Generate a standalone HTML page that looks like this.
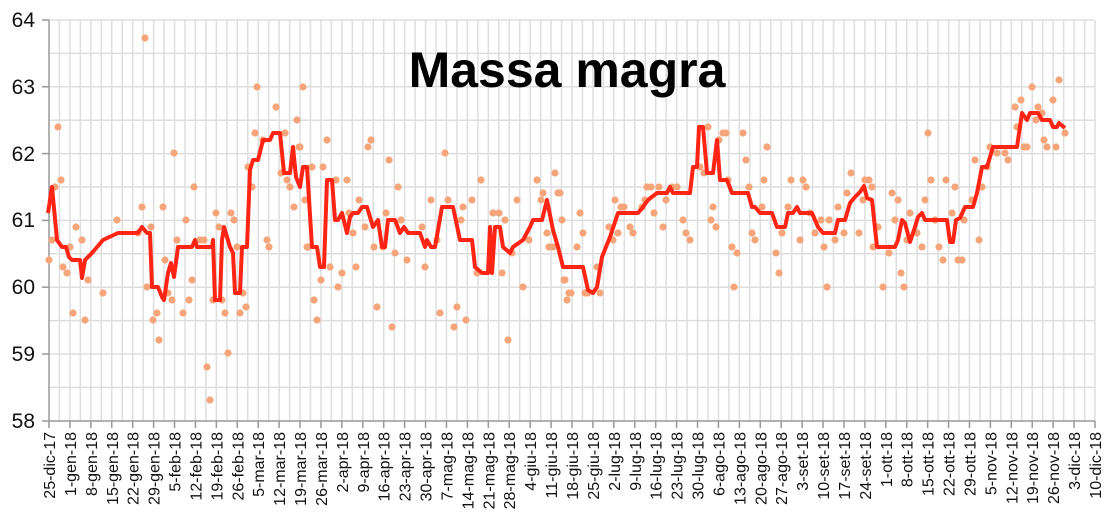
<!DOCTYPE html>
<html><head><meta charset="utf-8"><style>html,body{margin:0;padding:0;background:#fff}svg{display:block}</style></head>
<body>
<svg width="1106" height="526" viewBox="0 0 1106 526" xmlns="http://www.w3.org/2000/svg" font-family="Liberation Sans, Arial, sans-serif">
<g stroke="#dedede" stroke-width="1.5">
<line x1="49" y1="53.4" x2="1094" y2="53.4"/><line x1="49" y1="86.8" x2="1094" y2="86.8"/><line x1="49" y1="120.2" x2="1094" y2="120.2"/><line x1="49" y1="153.6" x2="1094" y2="153.6"/><line x1="49" y1="187" x2="1094" y2="187"/><line x1="49" y1="220.4" x2="1094" y2="220.4"/><line x1="49" y1="253.8" x2="1094" y2="253.8"/><line x1="49" y1="287.2" x2="1094" y2="287.2"/><line x1="49" y1="320.6" x2="1094" y2="320.6"/><line x1="49" y1="354" x2="1094" y2="354"/><line x1="49" y1="387.4" x2="1094" y2="387.4"/><line x1="49" y1="20" x2="1094" y2="20"/>
</g>
<path stroke="#dedede" stroke-width="1.5" fill="none" d="M59.46 20V421M69.92 20V421M80.38 20V421M90.84 20V421M101.3 20V421M111.76 20V421M122.22 20V421M132.68 20V421M143.14 20V421M153.6 20V421M164.06 20V421M174.52 20V421M184.98 20V421M195.44 20V421M205.9 20V421M216.36 20V421M226.82 20V421M237.28 20V421M247.74 20V421M258.2 20V421M268.66 20V421M279.12 20V421M289.58 20V421M300.04 20V421M310.5 20V421M320.96 20V421M331.42 20V421M341.88 20V421M352.34 20V421M362.8 20V421M373.26 20V421M383.72 20V421M394.18 20V421M404.64 20V421M415.1 20V421M425.56 20V421M436.02 20V421M446.48 20V421M456.94 20V421M467.4 20V421M477.86 20V421M488.32 20V421M498.78 20V421M509.24 20V421M519.7 20V421M530.16 20V421M540.62 20V421M551.08 20V421M561.54 20V421M572 20V421M582.46 20V421M592.92 20V421M603.38 20V421M613.84 20V421M624.3 20V421M634.76 20V421M645.22 20V421M655.68 20V421M666.14 20V421M676.6 20V421M687.06 20V421M697.52 20V421M707.98 20V421M718.44 20V421M728.9 20V421M739.36 20V421M749.82 20V421M760.28 20V421M770.74 20V421M781.2 20V421M791.66 20V421M802.12 20V421M812.58 20V421M823.04 20V421M833.5 20V421M843.96 20V421M854.42 20V421M864.88 20V421M875.34 20V421M885.8 20V421M896.26 20V421M906.72 20V421M917.18 20V421M927.64 20V421M938.1 20V421M948.56 20V421M959.02 20V421M969.48 20V421M979.94 20V421M990.4 20V421M1000.86 20V421M1011.32 20V421M1021.78 20V421M1032.24 20V421M1042.7 20V421M1053.16 20V421M1063.62 20V421M1074.08 20V421M1084.54 20V421M1095 20V421"/>
<g stroke="#999" stroke-width="1.5">
<line x1="49" y1="20" x2="49" y2="421"/><line x1="49" y1="421" x2="1095" y2="421"/>
<line x1="42" y1="20" x2="49" y2="20"/><line x1="42" y1="86.8" x2="49" y2="86.8"/><line x1="42" y1="153.6" x2="49" y2="153.6"/><line x1="42" y1="220.4" x2="49" y2="220.4"/><line x1="42" y1="287.2" x2="49" y2="287.2"/><line x1="42" y1="354" x2="49" y2="354"/><line x1="42" y1="421" x2="49" y2="421"/>
</g>
<path stroke="#999" stroke-width="1.5" d="M49 421v7M69.92 421v7M90.84 421v7M111.76 421v7M132.68 421v7M153.6 421v7M174.52 421v7M195.44 421v7M216.36 421v7M237.28 421v7M258.2 421v7M279.12 421v7M300.04 421v7M320.96 421v7M341.88 421v7M362.8 421v7M383.72 421v7M404.64 421v7M425.56 421v7M446.48 421v7M467.4 421v7M488.32 421v7M509.24 421v7M530.16 421v7M551.08 421v7M572 421v7M592.92 421v7M613.84 421v7M634.76 421v7M655.68 421v7M676.6 421v7M697.52 421v7M718.44 421v7M739.36 421v7M760.28 421v7M781.2 421v7M802.12 421v7M823.04 421v7M843.96 421v7M864.88 421v7M885.8 421v7M906.72 421v7M927.64 421v7M948.56 421v7M969.48 421v7M990.4 421v7M1011.32 421v7M1032.24 421v7M1053.16 421v7M1074.08 421v7M1095 421v7"/>
<g font-size="21" fill="#111" text-anchor="end">
<text x="35" y="27">64</text><text x="35" y="94">63</text><text x="35" y="161">62</text><text x="35" y="227">61</text><text x="35" y="294">60</text><text x="35" y="361">59</text><text x="35" y="428">58</text>
</g>
<g font-size="16" fill="#111" text-anchor="end">
<text transform="translate(55,432) rotate(-90)">25-dic-17</text>
<text transform="translate(75.9,432) rotate(-90)">1-gen-18</text>
<text transform="translate(96.8,432) rotate(-90)">8-gen-18</text>
<text transform="translate(117.8,432) rotate(-90)">15-gen-18</text>
<text transform="translate(138.7,432) rotate(-90)">22-gen-18</text>
<text transform="translate(159.6,432) rotate(-90)">29-gen-18</text>
<text transform="translate(180.5,432) rotate(-90)">5-feb-18</text>
<text transform="translate(201.4,432) rotate(-90)">12-feb-18</text>
<text transform="translate(222.4,432) rotate(-90)">19-feb-18</text>
<text transform="translate(243.3,432) rotate(-90)">26-feb-18</text>
<text transform="translate(264.2,432) rotate(-90)">5-mar-18</text>
<text transform="translate(285.1,432) rotate(-90)">12-mar-18</text>
<text transform="translate(306,432) rotate(-90)">19-mar-18</text>
<text transform="translate(327,432) rotate(-90)">26-mar-18</text>
<text transform="translate(347.9,432) rotate(-90)">2-apr-18</text>
<text transform="translate(368.8,432) rotate(-90)">9-apr-18</text>
<text transform="translate(389.7,432) rotate(-90)">16-apr-18</text>
<text transform="translate(410.6,432) rotate(-90)">23-apr-18</text>
<text transform="translate(431.6,432) rotate(-90)">30-apr-18</text>
<text transform="translate(452.5,432) rotate(-90)">7-mag-18</text>
<text transform="translate(473.4,432) rotate(-90)">14-mag-18</text>
<text transform="translate(494.3,432) rotate(-90)">21-mag-18</text>
<text transform="translate(515.2,432) rotate(-90)">28-mag-18</text>
<text transform="translate(536.2,432) rotate(-90)">4-giu-18</text>
<text transform="translate(557.1,432) rotate(-90)">11-giu-18</text>
<text transform="translate(578,432) rotate(-90)">18-giu-18</text>
<text transform="translate(598.9,432) rotate(-90)">25-giu-18</text>
<text transform="translate(619.8,432) rotate(-90)">2-lug-18</text>
<text transform="translate(640.8,432) rotate(-90)">9-lug-18</text>
<text transform="translate(661.7,432) rotate(-90)">16-lug-18</text>
<text transform="translate(682.6,432) rotate(-90)">23-lug-18</text>
<text transform="translate(703.5,432) rotate(-90)">30-lug-18</text>
<text transform="translate(724.4,432) rotate(-90)">6-ago-18</text>
<text transform="translate(745.4,432) rotate(-90)">13-ago-18</text>
<text transform="translate(766.3,432) rotate(-90)">20-ago-18</text>
<text transform="translate(787.2,432) rotate(-90)">27-ago-18</text>
<text transform="translate(808.1,432) rotate(-90)">3-set-18</text>
<text transform="translate(829,432) rotate(-90)">10-set-18</text>
<text transform="translate(850,432) rotate(-90)">17-set-18</text>
<text transform="translate(870.9,432) rotate(-90)">24-set-18</text>
<text transform="translate(891.8,432) rotate(-90)">1-ott-18</text>
<text transform="translate(912.7,432) rotate(-90)">8-ott-18</text>
<text transform="translate(933.6,432) rotate(-90)">15-ott-18</text>
<text transform="translate(954.6,432) rotate(-90)">22-ott-18</text>
<text transform="translate(975.5,432) rotate(-90)">29-ott-18</text>
<text transform="translate(996.4,432) rotate(-90)">5-nov-18</text>
<text transform="translate(1017.3,432) rotate(-90)">12-nov-18</text>
<text transform="translate(1038.2,432) rotate(-90)">19-nov-18</text>
<text transform="translate(1059.2,432) rotate(-90)">26-nov-18</text>
<text transform="translate(1080.1,432) rotate(-90)">3-dic-18</text>
<text transform="translate(1101,432) rotate(-90)">10-dic-18</text>
</g>
<path fill="none" stroke="#f6a57a" stroke-width="7.2" stroke-linecap="round" d="M49 260h0M52 240h0M55 187h0M58 127h0M61 180h0M63 267h0M67 273h0M70 247h0M73 313h0M76 227h0M82 240h0M85 320h0M88 280h0M103 293h0M117 220h0M142 207h0M138 233h0M151 227h0M147 287h0M153 320h0M157 313h0M159 340h0M163 207h0M165 260h0M168 293h0M172 300h0M174 153h0M177 240h0M183 313h0M186 220h0M189 300h0M192 280h0M194 187h0M200 240h0M204 240h0M207 367h0M210 400h0M213 300h0M216 213h0M219 227h0M222 300h0M225 313h0M228 353h0M231 213h0M234 220h0M237 247h0M240 313h0M243 293h0M246 307h0M248 167h0M252 187h0M255 133h0M257 87h0M263 140h0M267 240h0M269 247h0M276 107h0M281 173h0M285 133h0M287 180h0M290 187h0M294 207h0M297 120h0M299 147h0M303 87h0M305 200h0M307 247h0M145 38h0M300 147h0M308 247h0M312 167h0M314 300h0M317 320h0M321 280h0M323 167h0M327 140h0M330 267h0M336 180h0M338 287h0M342 273h0M347 180h0M349 213h0M353 233h0M356 267h0M359 200h0M365 227h0M368 147h0M371 140h0M374 247h0M377 307h0M383 247h0M386 213h0M389 160h0M392 327h0M395 253h0M398 187h0M401 220h0M407 260h0M422 227h0M425 267h0M431 200h0M437 240h0M440 313h0M445 153h0M448 200h0M454 327h0M457 307h0M461 220h0M463 207h0M466 320h0M472 200h0M477 273h0M481 180h0M493 213h0M499 213h0M502 273h0M505 220h0M508 340h0M512 253h0M517 200h0M523 287h0M529 240h0M537 180h0M541 200h0M543 193h0M547 233h0M549 247h0M553 247h0M555 173h0M558 193h0M562 220h0M564 280h0M567 300h0M569 293h0M560 193h0M565 280h0M571 293h0M577 247h0M580 213h0M583 233h0M585 293h0M588 293h0M597 267h0M600 293h0M609 227h0M613 240h0M615 200h0M618 233h0M621 207h0M624 207h0M630 227h0M633 233h0M642 207h0M645 200h0M647 187h0M651 187h0M654 213h0M659 187h0M663 227h0M666 200h0M672 187h0M677 187h0M683 220h0M686 233h0M690 240h0M700 167h0M704 173h0M708 127h0M711 220h0M713 207h0M716 227h0M719 140h0M723 133h0M726 133h0M728 180h0M732 247h0M734 287h0M737 253h0M743 133h0M746 160h0M749 187h0M752 233h0M755 240h0M762 207h0M764 180h0M767 147h0M776 253h0M779 273h0M782 233h0M788 207h0M791 180h0M800 240h0M803 180h0M806 187h0M810 213h0M815 233h0M821 220h0M824 247h0M827 287h0M829 220h0M835 240h0M838 207h0M844 233h0M847 193h0M851 173h0M859 233h0M863 200h0M865 180h0M869 180h0M872 187h0M873 247h0M878 227h0M883 287h0M889 253h0M892 193h0M895 220h0M898 200h0M901 273h0M904 287h0M907 240h0M910 213h0M917 233h0M922 247h0M925 200h0M928 133h0M931 180h0M935 220h0M939 247h0M943 260h0M946 180h0M952 213h0M955 187h0M958 260h0M962 260h0M964 220h0M972 200h0M975 160h0M979 240h0M982 187h0M987 167h0M990 147h0M997 153h0M1005 153h0M1008 160h0M1015 107h0M1017 127h0M1021 100h0M1024 147h0M1027 147h0M1032 87h0M1036 120h0M1038 107h0M1042 113h0M1044 140h0M1047 147h0M1053 100h0M1056 147h0M1059 80h0M1065 133h0"/>
<polyline fill="none" stroke="#ff2414" stroke-width="4" stroke-linejoin="round" points="48,213 52,187 57,240 62,247 66,247 69,257 72,260 80,260 82,278 85,260 92,253 103,240 118,233 138,233 142,227 147,233 150,233 152,287 158,287 162,297 164,300 168,273 171,263 174,277 178,247 192,247 195,240 197,247 212,247 213,240 215,300 220,300 222,240 224,227 230,247 233,253 235,293 240,293 242,247 247,247 250,170 253,160 258,160 263,140 270,140 273,133 280,133 284,173 290,173 293,147 296,177 300,187 303,167 307,167 312,247 317,247 320,267 324,267 327,180 332,180 335,220 338,220 342,213 347,233 350,217 353,213 358,213 362,207 367,207 373,227 378,220 382,247 385,247 388,220 395,220 400,233 404,227 408,233 420,233 425,247 427,240 431,247 435,247 442,207 453,207 460,240 472,240 475,267 482,273 488,273 490,227 492,273 495,227 500,227 503,247 510,253 513,247 523,240 530,227 533,220 542,220 547,200 553,230 558,247 563,267 583,267 588,290 593,293 597,287 602,257 610,237 618,213 638,213 643,207 648,200 657,193 667,193 670,187 673,193 690,193 693,167 697,167 699,127 703,127 707,173 713,173 717,140 720,180 727,180 732,193 748,193 752,207 755,207 760,213 772,213 777,227 785,227 788,213 793,213 797,207 800,213 812,213 818,227 823,233 830,233 835,233 838,220 845,220 850,203 855,197 860,192 864,186 867,198 872,200 877,247 895,247 898,240 902,220 905,223 910,242 915,227 918,217 922,213 925,220 947,220 950,242 953,242 956,220 960,218 965,207 973,207 977,193 982,167 987,167 993,147 1017,147 1022,113 1027,120 1030,113 1038,113 1042,120 1050,120 1053,127 1057,127 1059,123 1065,128"/>
<text x="567" y="87" font-size="50" font-weight="bold" text-anchor="middle" fill="#000">Massa magra</text>
</svg>
</body></html>
